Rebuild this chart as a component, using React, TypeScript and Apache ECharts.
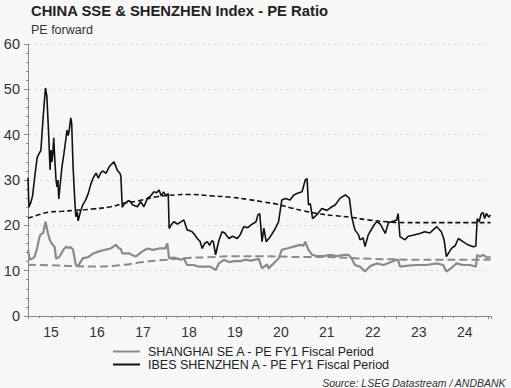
import React, { useEffect, useRef } from "react";
import * as echarts from "echarts";

const titleText = "CHINA SSE & SHENZHEN Index - PE Ratio";
const subtitleText = "PE forward";
const sourceText = "Source: LSEG Datastream / ANDBANK";
const seriesNames = ["SHANGHAI SE A - PE FY1 Fiscal Period", "IBES SHENZHEN A - PE FY1 Fiscal Period"];
const yTicks = [0, 10, 20, 30, 40, 50, 60];

// [decimal year, PE]
const shenzhen: [number, number][] = [
  [2015.0, 30.5], [2015.02, 24], [2015.06, 25], [2015.1, 26.5], [2015.15, 31], [2015.2, 35], [2015.25, 36],
  [2015.28, 36.5], [2015.33, 44], [2015.38, 50.3], [2015.41, 48.5], [2015.45, 40], [2015.48, 32.2], [2015.5, 36.6],
  [2015.52, 34], [2015.54, 36], [2015.56, 39.3], [2015.58, 35], [2015.61, 30], [2015.63, 28.5], [2015.65, 30],
  [2015.67, 25.8], [2015.7, 29], [2015.74, 33], [2015.77, 35], [2015.81, 38], [2015.85, 41], [2015.87, 39.8],
  [2015.89, 40.5], [2015.93, 43.7], [2015.95, 42.5], [2015.98, 33], [2016.02, 25], [2016.04, 21.9], [2016.07, 23],
  [2016.09, 21], [2016.14, 23], [2016.19, 24.5], [2016.25, 25.5], [2016.31, 27], [2016.37, 29.2], [2016.42, 30.5],
  [2016.48, 31.5], [2016.53, 30.4], [2016.58, 31.5], [2016.62, 32], [2016.7, 31.5], [2016.76, 32.8], [2016.8, 33.3],
  [2016.87, 34], [2016.91, 33], [2016.95, 32], [2017.0, 31.5], [2017.02, 30.8], [2017.05, 24], [2017.1, 24.8],
  [2017.15, 25.2], [2017.2, 25.5], [2017.28, 24.5], [2017.38, 24.1], [2017.45, 25.2], [2017.52, 24.1], [2017.6, 26],
  [2017.67, 26.5], [2017.74, 27.4], [2017.8, 27.2], [2017.85, 27.8], [2017.9, 26.5], [2017.95, 27.4], [2018.0, 26.5],
  [2018.05, 27], [2018.07, 19.3], [2018.12, 20.2], [2018.17, 20.8], [2018.25, 20.3], [2018.32, 20.7], [2018.39, 21.2],
  [2018.46, 19], [2018.52, 18.8], [2018.57, 18.6], [2018.62, 18], [2018.68, 17.1], [2018.74, 16.5], [2018.79, 14.9],
  [2018.84, 16], [2018.9, 16.4], [2018.95, 15.6], [2019.0, 16.6], [2019.03, 16.4], [2019.08, 13.5], [2019.15, 16.6],
  [2019.22, 18.6], [2019.28, 18.3], [2019.37, 17.1], [2019.45, 17.6], [2019.55, 17.1], [2019.62, 18], [2019.69, 19.7],
  [2019.78, 19.5], [2019.85, 20.1], [2019.96, 20.8], [2020.0, 22.3], [2020.04, 22.6], [2020.09, 16.4], [2020.13, 19.4],
  [2020.18, 16.4], [2020.27, 17.5], [2020.38, 19.3], [2020.45, 20.8], [2020.52, 25.6], [2020.6, 25.9], [2020.7, 25.6],
  [2020.78, 26.7], [2020.85, 27.0], [2020.96, 27.4], [2021.03, 30], [2021.07, 30.3], [2021.1, 24.5], [2021.14, 24.8],
  [2021.19, 21.5], [2021.28, 22.3], [2021.39, 23.7], [2021.5, 23.3], [2021.61, 24.1], [2021.68, 24.5], [2021.79, 26],
  [2021.9, 26.7], [2021.99, 26], [2022.04, 21.9], [2022.11, 19], [2022.19, 17.9], [2022.22, 16.8], [2022.29, 17.2],
  [2022.33, 15.3], [2022.4, 17.9], [2022.48, 19.3], [2022.55, 20.4], [2022.59, 20.8], [2022.66, 20.3], [2022.77, 18.2],
  [2022.84, 20.6], [2022.91, 20.8], [2023.02, 21.2], [2023.05, 22.6], [2023.09, 17.5], [2023.2, 16.8], [2023.27, 17.6],
  [2023.37, 17.8], [2023.52, 18.2], [2023.63, 18.6], [2023.74, 18.3], [2023.81, 19], [2023.89, 19.7], [2023.99, 18.6],
  [2024.05, 16.8], [2024.1, 13.1], [2024.21, 14.9], [2024.29, 15.5], [2024.36, 17.1], [2024.46, 16.4], [2024.57, 15.7],
  [2024.68, 15.3], [2024.74, 15.4], [2024.77, 21.5], [2024.81, 20.8], [2024.86, 22.6], [2024.9, 22.8], [2024.93, 21.5],
  [2024.97, 22.6], [2025.02, 21.8], [2025.06, 22.3],
];

const shanghai: [number, number][] = [
  [2015.0, 14.6], [2015.04, 12.4], [2015.08, 12.6], [2015.14, 13], [2015.2, 15], [2015.25, 17.5], [2015.28, 18],
  [2015.33, 18.3], [2015.38, 20.8], [2015.43, 18.4], [2015.48, 16.6], [2015.54, 15.7], [2015.58, 15.2], [2015.61, 12.7],
  [2015.68, 13], [2015.77, 14.6], [2015.83, 15.3], [2015.89, 15], [2015.93, 15.2], [2015.98, 14.6], [2016.04, 11.25],
  [2016.09, 11], [2016.19, 12.7], [2016.31, 13], [2016.42, 13.8], [2016.53, 14.2], [2016.67, 14.6], [2016.8, 14.9],
  [2016.91, 15.7], [2016.97, 15], [2017.02, 14.8], [2017.05, 13.8], [2017.2, 13.8], [2017.34, 13.1], [2017.48, 14.2],
  [2017.6, 14.9], [2017.72, 14.6], [2017.85, 14.9], [2017.99, 14.9], [2018.03, 16], [2018.07, 12.7], [2018.17, 12.9],
  [2018.32, 12.4], [2018.39, 12.7], [2018.46, 11.25], [2018.6, 11.25], [2018.71, 10.9], [2018.85, 10.9],
  [2018.97, 10.9], [2019.08, 10.1], [2019.15, 11.6], [2019.26, 12.4], [2019.37, 11.9], [2019.48, 12.1],
  [2019.62, 12.1], [2019.73, 12.4], [2019.85, 12.2], [2020.02, 12.6], [2020.09, 10.5], [2020.2, 11.4],
  [2020.23, 10.5], [2020.34, 11.6], [2020.45, 12.7], [2020.52, 14.6], [2020.63, 14.9], [2020.78, 15.3],
  [2020.92, 15.7], [2020.99, 15.5], [2021.03, 16.4], [2021.1, 14.6], [2021.18, 13.5], [2021.28, 13.2],
  [2021.43, 13.2], [2021.57, 13.5], [2021.72, 13.2], [2021.86, 13.5], [2021.97, 13.5], [2022.04, 12.7],
  [2022.11, 11.25], [2022.22, 10.9], [2022.33, 9.8], [2022.44, 11], [2022.59, 11.6], [2022.73, 11.25],
  [2022.87, 11.8], [2023.02, 12.4], [2023.05, 12.4], [2023.09, 10.9], [2023.27, 11.1], [2023.45, 11.25],
  [2023.67, 11.25], [2023.89, 11.6], [2024.03, 11.25], [2024.1, 9.8], [2024.21, 10.6], [2024.32, 11.6],
  [2024.46, 11.25], [2024.61, 11.25], [2024.74, 10.9], [2024.77, 13.5], [2024.83, 13.1], [2024.9, 13.5],
  [2025.0, 12.8], [2025.06, 13.1],
];

const shenzhenAvg: [number, number][] = [
  [2015.0, 21.6], [2015.1, 21.9], [2015.25, 22.4], [2015.45, 22.9], [2015.75, 23.1], [2016.0, 23.3], [2016.4, 23.6],
  [2016.8, 24.1], [2017.1, 24.9], [2017.4, 25.4], [2017.8, 26.3], [2018.2, 26.7], [2018.5, 26.8], [2019.0, 26.5],
  [2019.4, 26.2], [2019.8, 25.7], [2020.1, 25.2], [2020.4, 24.7], [2020.7, 23.9], [2021.0, 23.2], [2021.3, 22.6],
  [2021.7, 22.1], [2022.0, 21.8], [2022.4, 21.2], [2022.8, 20.8], [2023.2, 20.6], [2023.6, 20.6], [2024.0, 20.6],
  [2024.5, 20.6], [2025.06, 20.6],
];

const shanghaiAvg: [number, number][] = [
  [2015.0, 11.3], [2015.5, 11.2], [2016.0, 11.0], [2016.5, 10.9], [2017.0, 11.2], [2017.5, 11.9], [2018.0, 12.4],
  [2018.5, 12.8], [2019.0, 13.0], [2019.5, 13.2], [2020.0, 13.2], [2020.5, 13.1], [2021.0, 13.0], [2021.5, 13.0],
  [2022.0, 12.8], [2022.5, 12.6], [2023.0, 12.5], [2023.5, 12.4], [2024.0, 12.4], [2024.5, 12.4], [2025.06, 12.4],
];

const X_MIN = 2015;
const X_MAX = 2025.07;

export default function App() {
  const ref = useRef<HTMLDivElement>(null);
  useEffect(() => {
    document.body.style.margin = "0";
    const chart = echarts.init(ref.current!, undefined, { renderer: "svg" });
    const font = "'Liberation Sans', Arial, sans-serif";
    chart.setOption({
      animation: false,
      backgroundColor: "#f7f7f7",
      textStyle: { fontFamily: font },
      title: [
        { text: titleText, left: 31, top: 3, padding: 0, textStyle: { fontSize: 14.8, fontWeight: "bold", color: "#222", fontFamily: font } },
        { text: subtitleText, left: 31, top: 23, padding: 0, textStyle: { fontSize: 12.5, fontWeight: "normal", color: "#333", fontFamily: font } },
      ],
      legend: {
        data: seriesNames,
        orient: "vertical",
        left: 113,
        top: 345,
        padding: 0,
        icon: "rect",
        itemWidth: 27,
        itemHeight: 2,
        itemGap: 0,
        textStyle: { fontSize: 12.5, color: "#222", fontFamily: font, padding: [0, 0, 0, 3] },
      },
      graphic: [
        {
          type: "text",
          right: 5,
          top: 377,
          style: { text: sourceText, fontSize: 10.5, fontStyle: "italic", fill: "#333", fontFamily: font },
        },
      ],
      grid: { left: 28, right: 20, top: 44, bottom: 72 },
      xAxis: [
        {
          type: "value",
          min: X_MIN,
          max: X_MAX,
          interval: 1,
          axisLine: { show: true, lineStyle: { color: "#888", width: 1 } },
          axisTick: { show: true, length: 3, lineStyle: { color: "#888" } },
          minorTick: { show: true, splitNumber: 4, length: 2, lineStyle: { color: "#888" } },
          axisLabel: { show: false },
          splitLine: { show: false },
        },
        {
          type: "value",
          position: "bottom",
          min: X_MIN,
          max: X_MAX,
          interval: 0.5,
          axisLine: { show: false },
          axisTick: { show: false },
          splitLine: { show: false },
          axisLabel: {
            show: true,
            fontSize: 14,
            color: "#333",
            margin: 9,
            fontFamily: font,
            showMaxLabel: false,
            formatter: (v: number) => (Math.abs(v - Math.floor(v) - 0.5) < 0.01 ? String(Math.floor(v) % 100) : ""),
          },
        },
      ],
      yAxis: {
        type: "value",
        min: yTicks[0],
        max: yTicks[yTicks.length - 1],
        interval: 10,
        axisLine: { show: true, lineStyle: { color: "#888", width: 1 } },
        axisTick: { show: true, length: 4, lineStyle: { color: "#888" } },
        minorTick: { show: true, splitNumber: 5, length: 2, lineStyle: { color: "#888" } },
        axisLabel: { fontSize: 14.5, color: "#333", margin: 8, fontFamily: font },
        splitLine: { show: true, lineStyle: { color: "#dcdcdc", type: [3, 3], width: 1 } },
      },
      series: [
        {
          name: seriesNames[0],
          type: "line",
          data: shanghai,
          symbol: "none",
          lineStyle: { color: "#8a8a8a", width: 2.2 },
          itemStyle: { color: "#8a8a8a" },
          z: 3,
        },
        {
          name: seriesNames[1],
          type: "line",
          data: shenzhen,
          symbol: "none",
          lineStyle: { color: "#111", width: 1.6 },
          itemStyle: { color: "#111" },
          z: 4,
        },
        {
          name: "shanghaiAvg",
          type: "line",
          data: shanghaiAvg,
          symbol: "none",
          smooth: true,
          lineStyle: { color: "#8a8a8a", width: 2, type: [8, 4] },
          z: 2,
        },
        {
          name: "shenzhenAvg",
          type: "line",
          data: shenzhenAvg,
          symbol: "none",
          smooth: true,
          lineStyle: { color: "#111", width: 1.6, type: [5, 3] },
          z: 2,
        },
      ],
    });
    return () => chart.dispose();
  }, []);
  return <div ref={ref} style={{ position: "absolute", left: 0, top: 0, width: 511, height: 388 }} />;
}
